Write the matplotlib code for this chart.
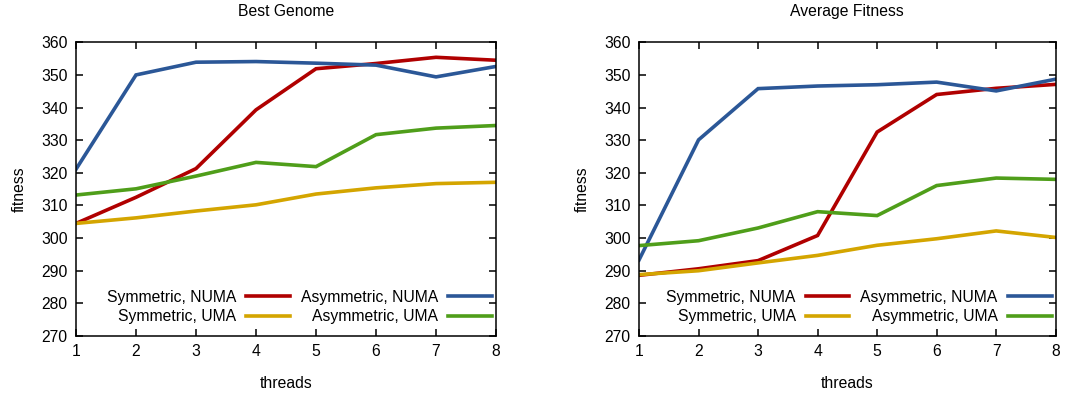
import numpy as np
import matplotlib.pyplot as plt

# =====================================
# DATA
# =====================================
threads = [1, 2, 3, 4, 5, 6, 7, 8]

best_sym_numa = [304.5, 312.5, 321.3, 339.3, 351.9, 353.5, 355.4, 354.5]
best_sym_uma = [304.5, 306.2, 308.3, 310.2, 313.5, 315.4, 316.7, 317.1]
best_asym_numa = [321.1, 350.0, 353.9, 354.1, 353.6, 353.0, 349.4, 352.6]
best_asym_uma = [313.2, 315.1, 319.0, 323.2, 321.9, 331.7, 333.7, 334.5]

avg_sym_numa = [288.6, 290.6, 293.1, 300.8, 332.5, 344.0, 345.9, 347.1]
avg_sym_uma = [288.8, 290.0, 292.4, 294.7, 297.8, 299.8, 302.2, 300.2]
avg_asym_numa = [293.3, 330.1, 345.8, 346.6, 347.0, 347.8, 345.1, 348.7]
avg_asym_uma = [297.7, 299.2, 303.1, 308.1, 306.9, 316.1, 318.4, 318.0]

labels = ['Symmetric, NUMA', 'Symmetric, UMA', 'Asymmetric, NUMA', 'Asymmetric, UMA']
colors = ['#b00000', '#d4a500', '#2b5797', '#4f9e1a']
titles = ['Best Genome', 'Average Fitness']

panels = [
    [best_sym_numa, best_sym_uma, best_asym_numa, best_asym_uma],
    [avg_sym_numa, avg_sym_uma, avg_asym_numa, avg_asym_uma],
]

# =====================================
# STYLE
# =====================================
plt.rcParams['font.family'] = ['Liberation Sans', 'DejaVu Sans']
fs = 11.3

fig = plt.figure(figsize=(10.84, 3.96), dpi=100)
ax_left = fig.add_axes([0.0701, 0.1515, 0.3875, 0.7417])
ax_right = fig.add_axes([0.5895, 0.1515, 0.3844, 0.7417])

for ax, series, title in zip([ax_left, ax_right], panels, titles):
    for vals, lab, col in zip(series, labels, colors):
        ax.plot(threads, vals, color=col, lw=2.6, label=lab, solid_joinstyle='miter')

    ax.set_xlim(1, 8)
    ax.set_ylim(270, 360)
    ax.set_xticks(threads)
    ax.set_yticks(np.arange(270, 361, 10))
    ax.tick_params(direction='in', length=5, width=1.1, top=True, right=True,
                   labelsize=fs, pad=6)
    for sp in ax.spines.values():
        sp.set_linewidth(1.1)

    ax.set_title(title, fontsize=fs, pad=19)
    ax.set_xlabel('threads', fontsize=fs, labelpad=12)
    ax.set_ylabel('fitness', fontsize=fs, labelpad=10)

    ax.legend(ncol=2, markerfirst=False, frameon=False, loc='lower right',
              bbox_to_anchor=(0.99, 0.04), borderaxespad=0, borderpad=0,
              handlelength=2.8, handletextpad=0.63, columnspacing=0.7,
              labelspacing=0.3, fontsize=fs)

fig.savefig('out.png', dpi=100)
